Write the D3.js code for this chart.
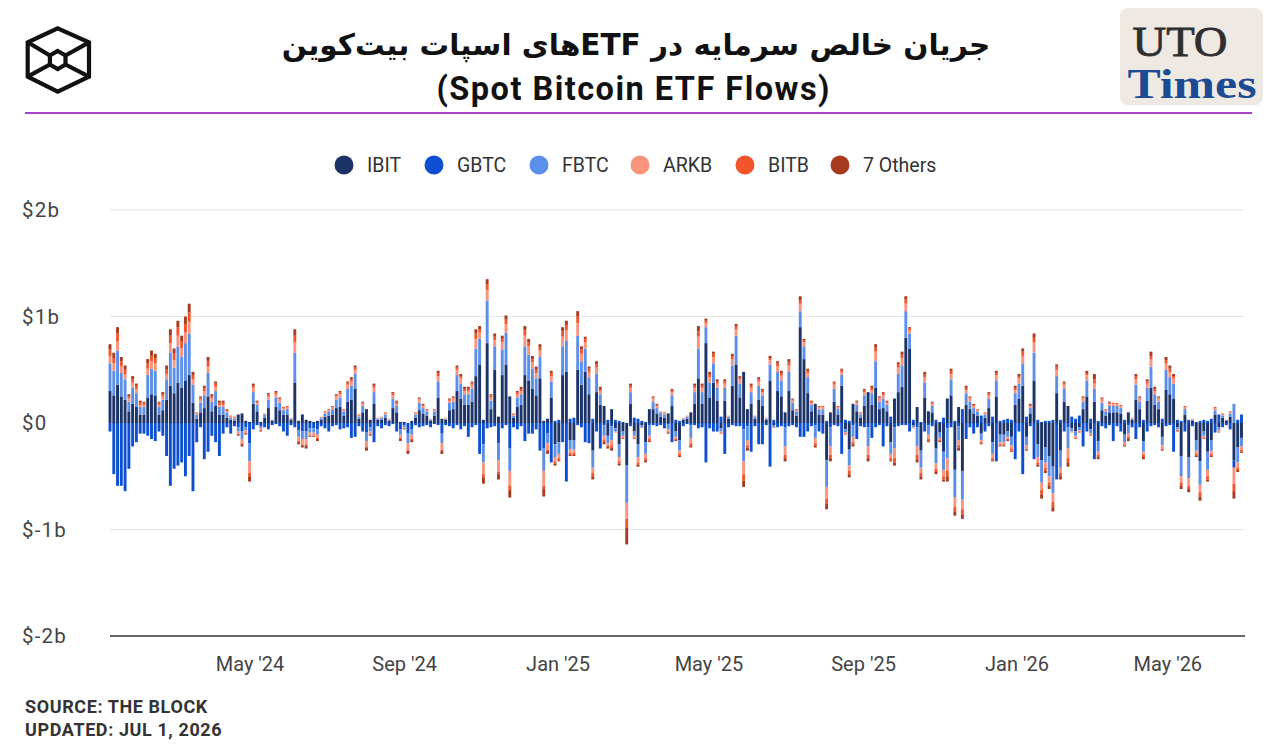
<!DOCTYPE html>
<html>
<head>
<meta charset="utf-8">
<title>Spot Bitcoin ETF Flows</title>
<script src="https://d3js.org/d3.v7.min.js"></script>
<style>
  body { margin: 0; background: #fff; }
  svg { display: block; font-family: Roboto, "Noto Sans", "DejaVu Sans", sans-serif; }
</style>
</head>
<body>
<div id="chart"></div>
<script>
// net flows in units of $10 million, one bar every third calendar day since launch (11 Jan 2024)
var ibit = [
  30,26,36,25,22,11,18,15,8,8, 24,27,26,8,12,22,35,28,38,33, 40,45,19,4,10,14,25,11,16,8,
  8,5,3,2,8,9,2,1,18,11, 1,5,14,2,15,12,8,8,3,38, 2,8,3,2,1,2,3,6,7,8,
  14,15,7,20,22,32,4,10,13,3, 18,3,3,5,2,14,10,1,1,0, 2,5,12,9,7,2,7,24,4,3,
  12,13,30,23,17,17,20,44,55,3, 75,13,50,6,45,55,25,5,15,17, 45,40,32,26,42,2,4,24,-20,-18,
  45,48,-16,-16,50,36,48,27,-26,29, 17,16,-12,13,-5,-20,-8,-40,18,-8, -20,-2,-18,13,13,9,6,5,9,16,
  -8,-16,3,4,10,18,42,18,75,24, 38,21,-5,21,4,35,55,24,48,13, 18,4,22,16,3,40,-2,30,25,10,
  30,12,7,90,60,28,11,18,8,8, -35,10,20,8,35,-6,-25,18,11,5, 16,29,17,33,13,14,11,-18,23,29,
  34,80,70,-2,15,-26,24,11,10,-24, -9,-27,23,26,-44,15,-45,17,13,9, 7,-10,5,14,-18,25,-11,-11,-8,-13,
  17,23,35,-13,9,40,-20,-35,-23,-31, -41,28,-26,20,16,-5,-8,-4,13,25, -6,20,-17,12,7,10,10,10,9,-11,
  10,3,22,13,-17,21,33,17,13,-13, 31,27,23,-4,-31,8,-32,2,-16,-36, -8,-27,-16,8,-4,5,2,6,-35,-23,-14
];
var gbtc = [
  -8,-48,-59,-59,-64,-43,-22,-18,-10,-10, -12,-15,-17,-8,-12,-31,-59,-43,-40,-37, -50,-31,-64,-18,-4,-34,-27,-12,-18,-31,
  -10,-4,-10,-3,-4,-8,-4,-19,-6,-2, -3,-4,-6,-2,-1,-3,-8,-12,-2,-4, -7,-8,-8,-5,-5,-6,-3,-5,-8,-3,
  -2,-6,-5,-4,-14,-13,-3,-8,-9,-4, -18,-3,-5,-2,-3,-1,-8,-6,-2,-10, -6,-2,-4,-3,-2,-4,-1,-2,-10,-2,
  -3,-5,-2,-6,-3,-13,-4,-2,-29,-20, -5,-4,-3,-19,-5,-2,-24,-4,-6,-3, -17,-10,-10,-6,-26,-24,-10,-37,2,3,
  -18,-55,4,5,-2,-4,-18,-19,4,-8, -24,-2,3,-3,3,2,1,0,-3,5, 4,2,1,-2,-2,-3,-2,-5,-1,-18,
  3,2,-3,-1,-2,-2,-5,-4,-37,-5, -8,-8,6,-29,-4,-2,-3,-3,-6,-3, -27,-3,-20,-20,-2,-41,3,-4,-3,-4,
  -3,-2,-4,-13,-13,-8,-3,-2,-8,-10, 2,-4,-2,-3,-29,3,2,-2,-15,-3, -4,-4,-14,-4,-2,-22,-3,6,-4,-3,
  -2,-2,-8,3,-4,1,-8,-2,-3,3, 1,5,-5,-4,2,-3,13,-15,-4,-10, -4,7,-8,-3,6,-36,2,3,4,3,
  -34,-8,-48,6,-3,-34,3,1,2,2, 3,-53,3,-8,-4,6,4,7,-22,-8, 4,-34,2,-3,-5,-2,-17,-3,-8,3,
  -2,-4,-15,-4,3,-8,-3,-2,-4,4, -3,-2,-27,3,2,-8,3,-3,1,2, 3,2,4,-9,8,-4,-2,-6,-7,3,8
];
var fbtc = [
  26,23,32,22,19,9,15,13,7,7, 21,24,23,7,10,19,31,24,34,29, 35,39,17,4,9,12,22,9,14,7,
  7,5,2,2,-4,-7,-3,-17,11,6, -2,3,8,1,9,7,4,5,1,28, -6,-7,-7,-4,-4,-5,2,3,4,5,
  8,9,4,12,13,14,2,6,-8,-4, 11,1,2,3,1,9,6,-5,-2,-9, -5,3,7,5,4,1,4,15,-9,1,
  7,7,15,14,10,10,12,26,24,-17, 40,8,22,-16,24,30,-21,2,9,10, 27,24,19,16,20,-21,-9,15,-12,-11,
  27,29,-9,-9,32,22,22,16,-16,17, 10,-10,-7,-13,-3,-12,-4,-35,11,-4, -12,-2,-11,-10,7,5,4,3,-5,10,
  -5,-10,1,2,-12,11,28,11,15,14, 18,12,-3,12,2,19,27,13,-30,-13, 11,2,13,10,1,15,-2,18,15,-18,
  18,7,4,15,12,15,6,-12,5,5, -25,-18,12,5,10,-3,-15,-11,6,3, 10,-18,11,25,7,9,6,-11,-20,17,
  20,25,14,-2,-18,-16,14,-9,6,-14, -5,-17,-28,15,-26,-13,-27,11,7,5, 4,-6,3,9,-11,15,-7,-7,-5,-8,
  11,14,21,-8,5,26,-12,-21,-14,-19, -25,16,-16,12,-20,-3,-4,-3,7,15, -4,12,-10,7,4,6,6,6,5,-7,
  -8,1,14,7,-10,12,20,10,7,-8, 19,16,14,-2,-19,5,-20,1,-10,-22, -4,-17,-10,4,-3,2,1,3,18,-14,-8
];
var arkb = [
  7,7,9,6,5,3,5,4,2,2, 6,7,7,2,3,5,9,7,10,8, 10,11,5,1,3,4,6,3,4,2,
  2,1,1,1,-2,-4,-2,-11,4,2, -2,1,3,0,3,3,2,2,1,10, -4,-5,-5,-3,-3,-3,1,1,1,2,
  3,3,1,4,4,4,1,2,-5,-2, 4,1,1,1,1,3,2,-3,-1,-6, -4,1,3,2,1,1,1,5,-6,1,
  2,3,5,5,3,3,4,9,6,-11, 10,3,6,-11,7,8,-14,1,3,3, 10,8,6,5,6,-14,-6,5,-4,-4,
  9,10,-3,-3,12,7,6,5,-5,6, 3,-4,-2,-5,-1,-4,-2,-15,4,-2, -5,-1,-4,-3,3,2,1,1,-2,3,
  -2,-3,1,1,-5,4,11,4,4,5, 6,4,-1,4,1,6,6,4,-12,-5, 4,1,4,3,1,4,-1,5,5,-8,
  6,2,1,7,4,4,2,-5,2,2, -11,-8,4,2,3,-1,-5,-5,2,1, 3,-8,3,9,3,3,2,-4,-9,6,
  7,7,3,-1,-8,-5,5,-4,2,-5, -2,-6,-12,5,-9,-5,-9,3,3,2, 1,-2,1,3,-4,5,-2,-2,-2,-3,
  3,5,7,-3,2,10,-5,-7,-5,-6, -8,6,-5,4,-9,-1,-2,-1,3,5, -1,5,-3,3,1,2,2,2,2,-2,
  -3,1,5,3,-3,4,7,3,3,-3, 6,5,5,-1,-6,2,-7,1,-3,-7, -2,-6,-3,2,-1,1,0,1,-15,-5,-3
];
var bitb = [
  6,5,7,5,4,2,3,3,2,2, 5,5,5,2,2,4,7,6,8,7, 8,9,4,1,2,3,5,2,3,2,
  2,1,1,1,-1,-1,-1,-3,2,1, 0,0,2,0,2,1,1,1,0,6, -1,-1,-1,0,0,-1,0,1,1,1,
  1,2,1,2,2,2,1,1,-1,-1, 2,0,0,1,0,2,2,-1,0,-1, -1,1,1,1,1,0,1,3,-1,0,
  1,1,2,2,2,2,2,5,3,-3, 5,2,3,-2,3,4,-4,1,2,2, 5,4,3,3,3,-3,-1,3,-2,-2,
  5,5,-2,-2,6,4,3,3,-3,3, 2,-2,-1,-2,0,-2,-1,-8,2,-1, -2,0,-2,-2,1,1,0,1,-1,2,
  -1,-2,0,0,-2,2,5,2,2,3, 3,2,-1,2,0,3,3,2,-6,-2, 2,0,2,2,0,2,0,3,2,-3,
  3,1,1,3,2,2,1,-2,1,1, -5,-3,2,1,2,-1,-3,-2,1,1, 2,-3,2,4,1,2,1,-2,-4,3,
  3,4,2,0,-4,-3,3,-2,1,-3, -1,-3,-5,3,-4,-2,-5,2,1,1, 1,-1,1,2,-2,2,-1,-1,-1,-2,
  2,2,4,-1,1,4,-2,-4,-3,-3, -5,3,-3,2,-4,0,-1,-1,1,2, -1,4,-2,1,1,1,1,1,1,-1,
  -2,0,3,1,-2,2,3,2,1,-1, 3,3,2,0,-3,1,-3,0,-2,-4, -1,-3,-2,1,-1,1,0,1,-7,-2,-2
];
var others = [
  5,5,6,4,4,2,3,2,2,1, 4,5,4,1,2,4,6,5,6,5, 7,8,3,0,1,2,4,2,2,2,
  2,1,0,0,-1,-2,-1,-5,2,1, -1,0,1,0,1,1,0,0,0,6, -2,-2,-3,-1,-1,-2,0,0,0,0,
  1,1,0,1,2,2,0,1,-3,-1, 2,0,0,0,0,1,1,-2,-1,-3, -2,0,1,1,0,0,0,2,-3,0,
  1,1,2,2,2,2,1,4,3,-6, 5,1,3,-5,3,4,-7,0,1,2, 4,3,3,3,3,-7,-3,2,-2,-1,
  4,4,-1,-1,5,3,2,2,-3,3, 2,-2,-2,-3,0,-2,0,-16,2,0, -2,0,-2,-1,1,1,0,0,-1,1,
  -1,-1,0,0,-2,2,5,2,2,2, 2,2,0,2,0,2,2,1,-6,-3, 2,0,2,1,0,2,0,2,2,-3,
  3,1,0,4,1,2,1,-2,0,0, -5,-3,1,0,1,0,-3,-2,1,0, 1,-3,2,3,1,1,1,-1,-3,2,
  3,3,1,0,-3,-3,2,-1,1,-2, -1,-2,-5,2,-4,-3,-4,2,1,1, 0,-1,0,1,-1,2,-1,-1,-1,-1,
  2,2,3,-1,1,4,-2,-4,-2,-3, -4,2,-3,1,-4,0,0,0,1,2, 0,5,-2,1,0,1,0,0,0,-1,
  -2,0,2,1,-2,2,4,2,1,-1, 3,3,2,-1,-3,0,-3,0,-1,-4, 0,-2,-1,0,0,0,0,0,-7,-2,-1
];

var fundNames = ['IBIT', 'GBTC', 'FBTC', 'ARKB', 'BITB', '7 Others'];
var fundColors = ['#1c3367', '#0e4fd2', '#5c8fe9', '#f8957c', '#f2552c', '#a63b20'];
var yTicks = [-2, -1, 0, 1, 2];
var yTickLabels = ['$-2b', '$-1b', '$0', '$1b', '$2b'];
var xTickDates = [new Date(2024, 4, 1), new Date(2024, 8, 1), new Date(2025, 0, 1),
                  new Date(2025, 4, 1), new Date(2025, 8, 1), new Date(2026, 0, 1), new Date(2026, 4, 1)];
var xTickLabels = ["May '24", "Sep '24", "Jan '25", "May '25", "Sep '25", "Jan '26", "May '26"];
var firstDay = new Date(2024, 0, 11);
var lastDay = new Date(2026, 6, 1);

var W = 1280, H = 750;
var svg = d3.select('#chart').append('svg').attr('width', W).attr('height', H);

// ---- header ----
var logo = svg.append('g').attr('fill', 'none').attr('stroke', '#111').attr('stroke-width', 4.2)
  .attr('stroke-linejoin', 'miter');
logo.append('path').attr('d', 'M57.7,28.3 L89,42.3 L89,76.7 L57.7,91.7 L27.7,76.7 L27.7,42.3 Z');
logo.append('path').attr('d', 'M57.7,51 L65.5,55.5 L65.5,64.5 L57.7,69 L49.9,64.5 L49.9,55.5 Z');
logo.append('path').attr('d', 'M27.7,42.3 L49.9,55.5 M89,42.3 L65.5,55.5 M27.7,76.7 L49.9,64.5 M89,76.7 L65.5,64.5');

svg.append('text')
  .attr('x', 636).attr('y', 55)
  .attr('text-anchor', 'middle')
  .attr('direction', 'rtl')
  .attr('font-family', '"DejaVu Sans", sans-serif')
  .attr('font-weight', 'bold')
  .attr('font-size', 29.5)
  .attr('fill', '#111')
  .text('جریان خالص سرمایه در ETFهای اسپات بیت‌کوین');

svg.append('text')
  .attr('x', 633).attr('y', 100)
  .attr('text-anchor', 'middle')
  .attr('font-family', 'Roboto, sans-serif')
  .attr('font-weight', 'bold')
  .attr('font-size', 32.5)
  .attr('textLength', 393)
  .attr('fill', '#111')
  .text('(Spot Bitcoin ETF Flows)');

svg.append('rect').attr('x', 1120).attr('y', 8).attr('width', 143).attr('height', 97)
  .attr('rx', 8).attr('fill', '#eeeae3');
svg.append('text').attr('x', 1180).attr('y', 56).attr('text-anchor', 'middle')
  .attr('font-family', '"Liberation Serif", "DejaVu Serif", serif')
  .attr('font-size', 42).attr('fill', '#2e2e2e')
  .attr('textLength', 95).attr('lengthAdjust', 'spacingAndGlyphs')
  .attr('stroke', '#2e2e2e').attr('stroke-width', 0.8)
  .text('UTO');
svg.append('text').attr('x', 1192).attr('y', 98).attr('text-anchor', 'middle')
  .attr('font-family', '"Liberation Serif", "DejaVu Serif", serif')
  .attr('font-weight', 'bold')
  .attr('font-size', 42).attr('fill', '#1d4b93')
  .attr('textLength', 129).attr('lengthAdjust', 'spacingAndGlyphs')
  .text('Times');

svg.append('line').attr('x1', 25).attr('x2', 1252).attr('y1', 113).attr('y2', 113)
  .attr('stroke', '#a245c9').attr('stroke-width', 2);

// ---- legend ----
var legendX = [344, 434, 539, 640, 745, 840];
var legend = svg.append('g').selectAll('g').data(fundNames).enter().append('g')
  .attr('transform', function(d, i) { return 'translate(' + legendX[i] + ',165)'; });
legend.append('circle').attr('r', 9.5).attr('fill', function(d, i) { return fundColors[i]; });
legend.append('text').attr('x', 23).attr('dy', '0.35em')
  .attr('font-size', 19.5).attr('fill', '#333')
  .text(function(d) { return d; });

// ---- chart ----
var rows = ibit.map(function(v, i) {
  return {
    date: d3.timeDay.offset(firstDay, 3 * i),
    'IBIT': v / 100, 'GBTC': gbtc[i] / 100, 'FBTC': fbtc[i] / 100,
    'ARKB': arkb[i] / 100, 'BITB': bitb[i] / 100, '7 Others': others[i] / 100
  };
});

var x = d3.scaleTime().domain([firstDay, lastDay]).range([110, 1244]);
var y = d3.scaleLinear().domain([-2, 2]).range([636, 210]);
var barW = 2.9;

var grid = svg.append('g');
grid.selectAll('line').data(yTicks).enter().append('line')
  .attr('x1', 110).attr('x2', 1245)
  .attr('y1', function(d) { return y(d); }).attr('y2', function(d) { return y(d); })
  .attr('stroke', function(d) { return d === -2 ? '#333' : '#e6e6e6'; })
  .attr('stroke-width', function(d) { return d === -2 ? 1.5 : 1; });

svg.append('g').selectAll('text').data(yTicks).enter().append('text')
  .attr('x', 22).attr('y', function(d) { return y(d); }).attr('dy', '0.35em')
  .attr('font-size', 20.5).attr('letter-spacing', 1.2).attr('fill', '#444')
  .text(function(d, i) { return yTickLabels[i]; });

var xAxis = d3.axisBottom(x).tickValues(xTickDates).tickSize(0)
  .tickFormat(function(d, i) { return xTickLabels[i]; });
svg.append('g').attr('transform', 'translate(0,654)').call(xAxis)
  .call(function(g) { g.select('.domain').remove(); })
  .selectAll('text').attr('font-size', 20).attr('fill', '#444')
  .attr('font-family', 'Roboto, sans-serif');

var stacked = d3.stack().keys(fundNames).offset(d3.stackOffsetDiverging)(rows);

svg.append('g').selectAll('g').data(stacked).enter().append('g')
  .attr('fill', function(d, i) { return fundColors[i]; })
  .selectAll('rect').data(function(d) { return d.filter(function(p) { return p[1] !== p[0]; }); })
  .enter().append('rect')
  .attr('x', function(d) { return x(d.data.date) - barW / 2; })
  .attr('width', barW)
  .attr('y', function(d) { return y(Math.max(d[0], d[1])); })
  .attr('height', function(d) { return Math.abs(y(d[0]) - y(d[1])); });

// ---- footer ----
svg.append('text').attr('x', 25).attr('y', 713)
  .attr('font-weight', 'bold').attr('font-size', 18).attr('letter-spacing', 0.6).attr('fill', '#333')
  .text('SOURCE: THE BLOCK');
svg.append('text').attr('x', 25).attr('y', 736)
  .attr('font-weight', 'bold').attr('font-size', 18).attr('letter-spacing', 0.6).attr('fill', '#333')
  .text('UPDATED: JUL 1, 2026');
</script>
</body>
</html>
